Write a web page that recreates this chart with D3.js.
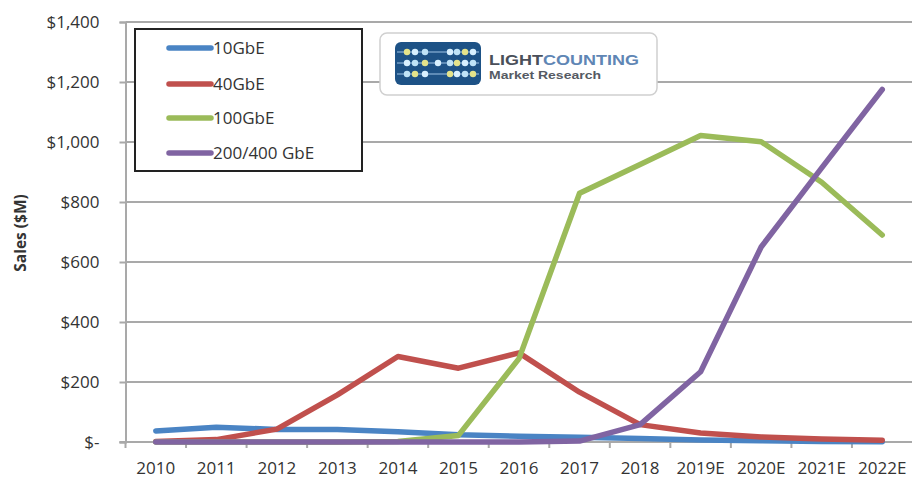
<!DOCTYPE html>
<html>
<head>
<meta charset="utf-8">
<script src="https://cdn.jsdelivr.net/npm/d3@7"></script>
<style>
  html, body { margin: 0; padding: 0; background: #fff; }
  svg { display: block; font-family: "Open Sans", sans-serif; }
</style>
</head>
<body>
<svg id="chart" width="912" height="479"></svg>
<script>
// ---- data ----
const years = ["2010","2011","2012","2013","2014","2015","2016","2017","2018","2019E","2020E","2021E","2022E"];
const gbe10  = [37, 49, 42, 42, 34, 24, 19, 16, 12, 7, 4, 2, 1];
const gbe40  = [2, 8, 43, 157, 285, 246, 297, 166, 58, 30, 17, 10, 6];
const gbe100 = [0, 0, 0, 0, 2, 22, 278, 829, 925, 1022, 1001, 866, 690];
const gbe200 = [0, 0, 0, 0, 0, 0, 0, 3, 58, 234, 650, 914, 1175];
const seriesNames = ["10GbE", "40GbE", "100GbE", "200/400 GbE"];
const yTicks = [0, 200, 400, 600, 800, 1000, 1200, 1400];
const yLabel = "Sales ($M)";

const colors = ["#4a84c4", "#c0504d", "#9bbb59", "#8064a2"];
const seriesValues = [gbe10, gbe40, gbe100, gbe200];

const svg = d3.select("#chart");
const mLeft = 125.5, mRight = 912.5, mTop = 22, mBottom = 442;

const x = d3.scaleBand().domain(years).range([mLeft, mRight]).padding(0);
const y = d3.scaleLinear().domain([0, 1400]).range([mBottom, mTop]);

const gridColor = "#a9a9a9";
const textColor = "#333";

// gridlines
svg.append("g").selectAll("line").data(yTicks.filter(d => d > 0)).join("line")
  .attr("x1", mLeft).attr("x2", 912)
  .attr("y1", d => y(d)).attr("y2", d => y(d))
  .attr("stroke", gridColor).attr("stroke-width", 2);

// y axis
const fmt = d3.format("$,");
const yAxis = d3.axisLeft(y).tickValues(yTicks).tickSize(6).tickPadding(20)
  .tickFormat(d => d === 0 ? "$-" : fmt(d));
const gy = svg.append("g").attr("transform", `translate(${mLeft},0)`).call(yAxis);
gy.select(".domain").attr("stroke", gridColor).attr("stroke-width", 2);
gy.selectAll(".tick line").attr("stroke", gridColor).attr("stroke-width", 2);
gy.selectAll(".tick text").attr("font-size", 17).attr("fill", textColor)
  .attr("font-family", "Open Sans");

// x axis
const xAxis = d3.axisBottom(x).tickSize(0).tickPadding(20);
const gx = svg.append("g").attr("transform", `translate(0,${mBottom})`).call(xAxis);
gx.select(".domain").attr("stroke", gridColor).attr("stroke-width", 2)
  .attr("d", `M${mLeft - 6},0H912`);
gx.selectAll(".tick text").attr("font-size", 17).attr("fill", textColor)
  .attr("font-family", "Open Sans");
// category boundary ticks
const bounds = years.map(d => x(d));
svg.append("g").selectAll("line").data(bounds).join("line")
  .attr("x1", d => d).attr("x2", d => d)
  .attr("y1", mBottom).attr("y2", mBottom + 6)
  .attr("stroke", gridColor).attr("stroke-width", 2);

// y axis title
svg.append("text")
  .attr("transform", `translate(26,233) rotate(-90)`)
  .attr("text-anchor", "middle")
  .attr("font-size", 15.5).attr("font-weight", "bold").attr("fill", textColor)
  .text(yLabel);

// lines
const line = d3.line()
  .x((d, i) => x(years[i]) + x.bandwidth() / 2)
  .y(d => y(d));
svg.append("g").selectAll("path").data(seriesValues).join("path")
  .attr("d", d => line(d))
  .attr("fill", "none")
  .attr("stroke", (d, i) => colors[i])
  .attr("stroke-width", 5.5)
  .attr("stroke-linejoin", "round")
  .attr("stroke-linecap", "round");

// legend
const lg = svg.append("g");
lg.append("rect").attr("x", 135).attr("y", 29).attr("width", 227).attr("height", 142)
  .attr("fill", "#fff").attr("stroke", "#222").attr("stroke-width", 2);
const rowsY = [48, 84, 118, 153];
const items = lg.selectAll("g.item").data(seriesNames).join("g").attr("class", "item")
  .attr("transform", (d, i) => `translate(0,${rowsY[i]})`);
items.append("line").attr("x1", 169).attr("x2", 211).attr("y1", 0).attr("y2", 0)
  .attr("stroke", (d, i) => colors[i]).attr("stroke-width", 5.5).attr("stroke-linecap", "round");
items.append("text").attr("x", 213).attr("y", 0).attr("dy", "0.35em")
  .attr("font-size", 17).attr("fill", textColor).text(d => d);

// logo
const logo = svg.append("g");
logo.append("rect").attr("x", 380).attr("y", 33).attr("width", 277).attr("height", 62)
  .attr("rx", 7).attr("fill", "#fff").attr("stroke", "#d0d0d0").attr("stroke-width", 1.5);
logo.append("rect").attr("x", 395).attr("y", 42).attr("width", 86).attr("height", 43)
  .attr("rx", 6).attr("fill", "#1d5286");
const logoRows = [52, 63, 74];
logo.append("g").selectAll("line").data(logoRows).join("line")
  .attr("x1", 397).attr("x2", 479).attr("y1", d => d).attr("y2", d => d)
  .attr("stroke", "#9fc3e6").attr("stroke-width", 1.2);
const dotCols = [407, 415, 425, 438, 450, 457, 465, 473];
const dotPattern = [
  [1,1,1,0,1,1,1,1],
  [1,1,1,1,1,1,1,1],
  [1,1,1,0,1,1,1,1]
];
const dotColorsArr = ["#e4e38a", "#d8f0ff", "#bfe3f7"];
const dots = [];
dotPattern.forEach((row, r) => row.forEach((v, c) => {
  if (v) dots.push({cx: dotCols[c], cy: logoRows[r], col: dotColorsArr[(r + c) % 3]});
}));
logo.append("g").selectAll("circle").data(dots).join("circle")
  .attr("cx", d => d.cx).attr("cy", d => d.cy).attr("r", 3.2).attr("fill", d => d.col);
const t1 = logo.append("text").attr("x", 489).attr("y", 65)
  .attr("font-family", "Liberation Sans")
  .attr("font-size", 15).attr("font-weight", "bold").attr("textLength", 150)
  .attr("lengthAdjust", "spacingAndGlyphs");
t1.append("tspan").attr("fill", "#4a4f5a").text("LIGHT");
t1.append("tspan").attr("fill", "#5f86b5").text("COUNTING");
logo.append("text").attr("x", 489).attr("y", 79)
  .attr("font-family", "Liberation Sans")
  .attr("font-size", 11).attr("font-weight", "bold").attr("fill", "#555a63")
  .attr("textLength", 112).attr("lengthAdjust", "spacingAndGlyphs")
  .text("Market Research");
</script>
</body>
</html>
